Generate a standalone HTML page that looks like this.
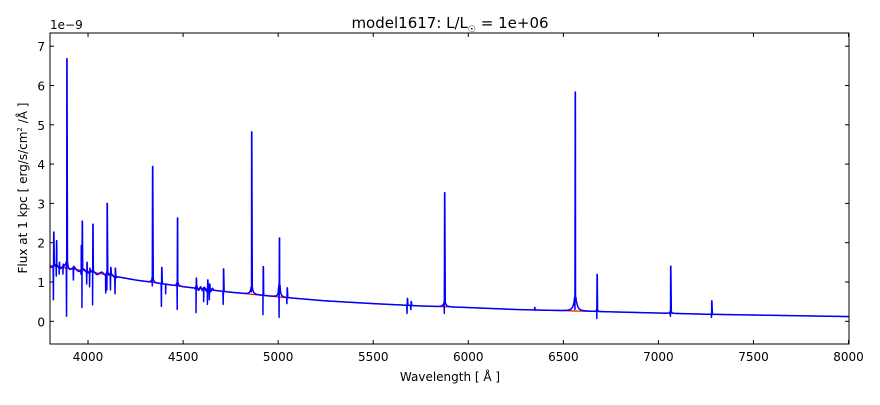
<!DOCTYPE html>
<html><head><meta charset="utf-8"><style>
body{margin:0;background:#fff;}
svg{font-family:"DejaVu Sans","Liberation Sans",sans-serif;}
</style></head><body>
<svg id="s" width="880" height="400" viewBox="0 0 880 400" xmlns="http://www.w3.org/2000/svg">
<rect width="880" height="400" fill="#fff"/>
<text x="450" y="28" font-size="15" text-anchor="middle">model1617: L/L<tspan font-size="9" dy="4">☉</tspan><tspan dy="-4"> = 1e+06</tspan></text>
<text x="50" y="29" font-size="12">1e−9</text>
<g id="plot"></g>
<rect x="50" y="33" width="799" height="311" fill="none" stroke="#000" stroke-width="1"/>
<g id="ticks" font-size="12"></g>
<text x="450" y="381" font-size="12" text-anchor="middle">Wavelength [ Å ]</text>
<text transform="translate(27,188) rotate(-90)" font-size="12" text-anchor="middle">Flux at 1 kpc [ erg/s/cm<tspan font-size="7" dy="-5">2</tspan><tspan dy="5"> /Å ]</tspan></text>
</svg>
<script>
function px(l){return 50+(l-3800)*0.190125;}
function py(v){return 321.3-v*39.3;}
var cp=[[3800,1.42],[4000,1.27],[4250,1.05],[4500,0.88],[4750,0.74],[5000,0.62],[5250,0.52],[5500,0.45],[5750,0.39],[6000,0.35],[6250,0.3],[6500,0.27],[6750,0.24],[7000,0.21],[7250,0.18],[7500,0.16],[7750,0.14],[8000,0.12]];
function cont(l){for(var i=0;i<cp.length-1;i++){if(l<=cp[i+1][0]){var t=(l-cp[i][0])/(cp[i+1][0]-cp[i][0]);return cp[i][1]+t*(cp[i+1][1]-cp[i][1]);}}return 0.12;}
var wings=[[6563,0.35,9],[4861,0.18,7],[5876,0.12,7],[3889,0.15,6],[5007,0.3,5],[4340,0.12,5],[4471,0.08,5],[4101,0.1,5],[7065,0.05,4],[6678,0.04,3]];
function base(l){var v=cont(l);for(var i=0;i<wings.length;i++){var d=(l-wings[i][0])/wings[i][2];v+=wings[i][1]/(1+d*d);}
if(l<4160)v+=0.04*Math.sin(l*0.13);if(l>4560&&l<4660)v+=0.05*Math.sin(l*0.3);return v;}
var lines=[[3820,2.27,0.55],[3835,2.05,1.15],[3850,1.5,1.2],[3870,1.45,1.2],[3889,6.68,0.13],[3925,1.4,1.05],[3965,1.93,1.2],[3970,2.55,0.35],[3995,1.5,0.95],[4010,1.35,0.88],[4026,2.47,0.42],[4095,1.2,0.72],[4101,3.0,0.8],[4120,1.37,0.8],[4144,1.35,0.7],[4340,3.94,0.9],[4388,1.37,0.38],[4410,0.95,0.7],[4471,2.63,0.3],[4570,1.1,0.22],[4610,0.85,0.5],[4630,1.05,0.43],[4640,0.95,0.55],[4713,1.33,0.43],[4861,4.82,0.75],[4922,1.39,0.17],[5007,2.12,0.1],[5048,0.85,0.45],[5680,0.58,0.2],[5700,0.5,0.3],[5876,3.27,0.2],[6350,0.35,0.28],[6563,5.83,0.3],[6678,1.19,0.07],[7065,1.4,0.13],[7281,0.52,0.1]];
var pts=[];
for(var l=3800;l<=8000;l+=4)pts.push([l,base(l)]);
lines.forEach(function(L){var c=base(L[0]);pts.push([L[0]-3.5,c]);pts.push([L[0]-2,L[2]]);pts.push([L[0]-0.5,L[1]]);pts.push([L[0]+0.5,L[1]]);pts.push([L[0]+3,c]);});
pts.sort(function(a,b){return a[0]-b[0];});
var d="";pts.forEach(function(p,i){d+=(i?"L":"M")+px(p[0]).toFixed(2)+" "+py(p[1]).toFixed(2);});
var rd="";for(var l=3800;l<=8000;l+=20)rd+=(l==3800?"M":"L")+px(l).toFixed(2)+" "+py(cont(l)).toFixed(2);
document.getElementById("plot").innerHTML='<clipPath id="c"><rect x="50" y="33" width="799" height="311"/></clipPath><g clip-path="url(#c)"><path d="'+rd+'" fill="none" stroke="red" stroke-width="1.2"/><path d="'+d+'" fill="none" stroke="blue" stroke-width="1.5" stroke-linejoin="round"/></g>';
var t="";
for(var x=4000;x<=8000;x+=500){var X=px(x);t+='<line x1="'+X+'" y1="344" x2="'+X+'" y2="340" stroke="#000"/><line x1="'+X+'" y1="33" x2="'+X+'" y2="37" stroke="#000"/><text x="'+X+'" y="361" text-anchor="middle">'+x+'</text>';}
for(var v=0;v<=7;v++){var Y=py(v);t+='<line x1="50" y1="'+Y+'" x2="54" y2="'+Y+'" stroke="#000"/><line x1="849" y1="'+Y+'" x2="845" y2="'+Y+'" stroke="#000"/><text x="45" y="'+(Y+5)+'" text-anchor="end">'+v+'</text>';}
document.getElementById("ticks").innerHTML=t;
</script>
</body></html>
